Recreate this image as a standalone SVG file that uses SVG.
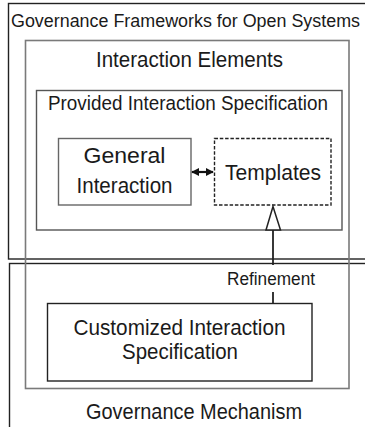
<svg xmlns="http://www.w3.org/2000/svg" width="365" height="427" viewBox="0 0 365 427">
<style>
text{font-family:"Liberation Sans",Arial,sans-serif;fill:#1a1a1a;}
.frame{fill:none;stroke:#222;stroke-width:1.4;}
.gray{fill:none;stroke:#7a7a7a;stroke-width:1.6;}
.dark{fill:none;stroke:#555;stroke-width:1.4;}
.node{fill:none;stroke:#666;stroke-width:1.4;}
.dash{fill:none;stroke:#222;stroke-width:1.4;stroke-dasharray:3.5,1.8;}
.conn{fill:none;stroke:#222;stroke-width:1.8;}
.dbl{fill:none;stroke:#111;stroke-width:2.2;}
</style>
<defs>
<marker id="ah" viewBox="0 0 10 10" refX="9" refY="5" markerWidth="3.6" markerHeight="3.8" orient="auto-start-reverse" markerUnits="strokeWidth">
<path d="M0,0 L10,5 L0,10 z" fill="#111"/>
</marker>
</defs>
<g id="governance-frameworks">
<rect class="frame" x="8.5" y="3.5" width="370" height="255.5"/>
<text x="11" y="27" font-size="17.5" textLength="349" lengthAdjust="spacingAndGlyphs">Governance Frameworks for Open Systems</text>
</g>
<g id="governance-mechanism">
<rect class="frame" x="9.5" y="263.5" width="370" height="200"/>
<text x="194" y="419" font-size="22" text-anchor="middle" textLength="216" lengthAdjust="spacingAndGlyphs">Governance Mechanism</text>
</g>
<g id="interaction-elements">
<rect class="gray" x="25.5" y="40.5" width="323.5" height="348"/>
<text x="189.5" y="67" font-size="22" text-anchor="middle" textLength="187" lengthAdjust="spacingAndGlyphs">Interaction Elements</text>
</g>
<g id="provided-interaction-specification">
<rect class="dark" x="36.5" y="90.5" width="305.5" height="139.5"/>
<text x="48" y="110" font-size="20.5" textLength="280" lengthAdjust="spacingAndGlyphs">Provided Interaction Specification</text>
</g>
<g id="general-interaction">
<rect class="node" x="58.5" y="138.5" width="132.5" height="66.5"/>
<text x="124.5" y="163" font-size="22" text-anchor="middle" textLength="82" lengthAdjust="spacingAndGlyphs">General</text>
<text x="124.5" y="193" font-size="22" text-anchor="middle" textLength="96" lengthAdjust="spacingAndGlyphs">Interaction</text>
</g>
<g id="templates">
<rect class="dash" x="214.5" y="138.5" width="116.5" height="66.5"/>
<text x="273" y="180" font-size="22" text-anchor="middle" textLength="96" lengthAdjust="spacingAndGlyphs">Templates</text>
</g>
<g id="customized-interaction-specification">
<rect class="frame" x="47.5" y="303.5" width="264.5" height="77.5"/>
<text x="179.5" y="335" font-size="22" text-anchor="middle" textLength="212" lengthAdjust="spacingAndGlyphs">Customized Interaction</text>
<text x="180" y="359" font-size="22" text-anchor="middle" textLength="116" lengthAdjust="spacingAndGlyphs">Specification</text>
</g>
<g id="connectors">
<line class="dbl" x1="192" y1="172" x2="213" y2="172" marker-start="url(#ah)" marker-end="url(#ah)"/>
<line class="conn" x1="273" y1="230" x2="273" y2="265"/>
<line class="conn" x1="273" y1="292" x2="273" y2="303"/>
<polygon points="273,206.5 266,230 280.5,230" fill="#fff" stroke="#222" stroke-width="1.5"/>
<text x="271" y="285" font-size="18" text-anchor="middle" textLength="88" lengthAdjust="spacingAndGlyphs">Refinement</text>
</g>
</svg>
